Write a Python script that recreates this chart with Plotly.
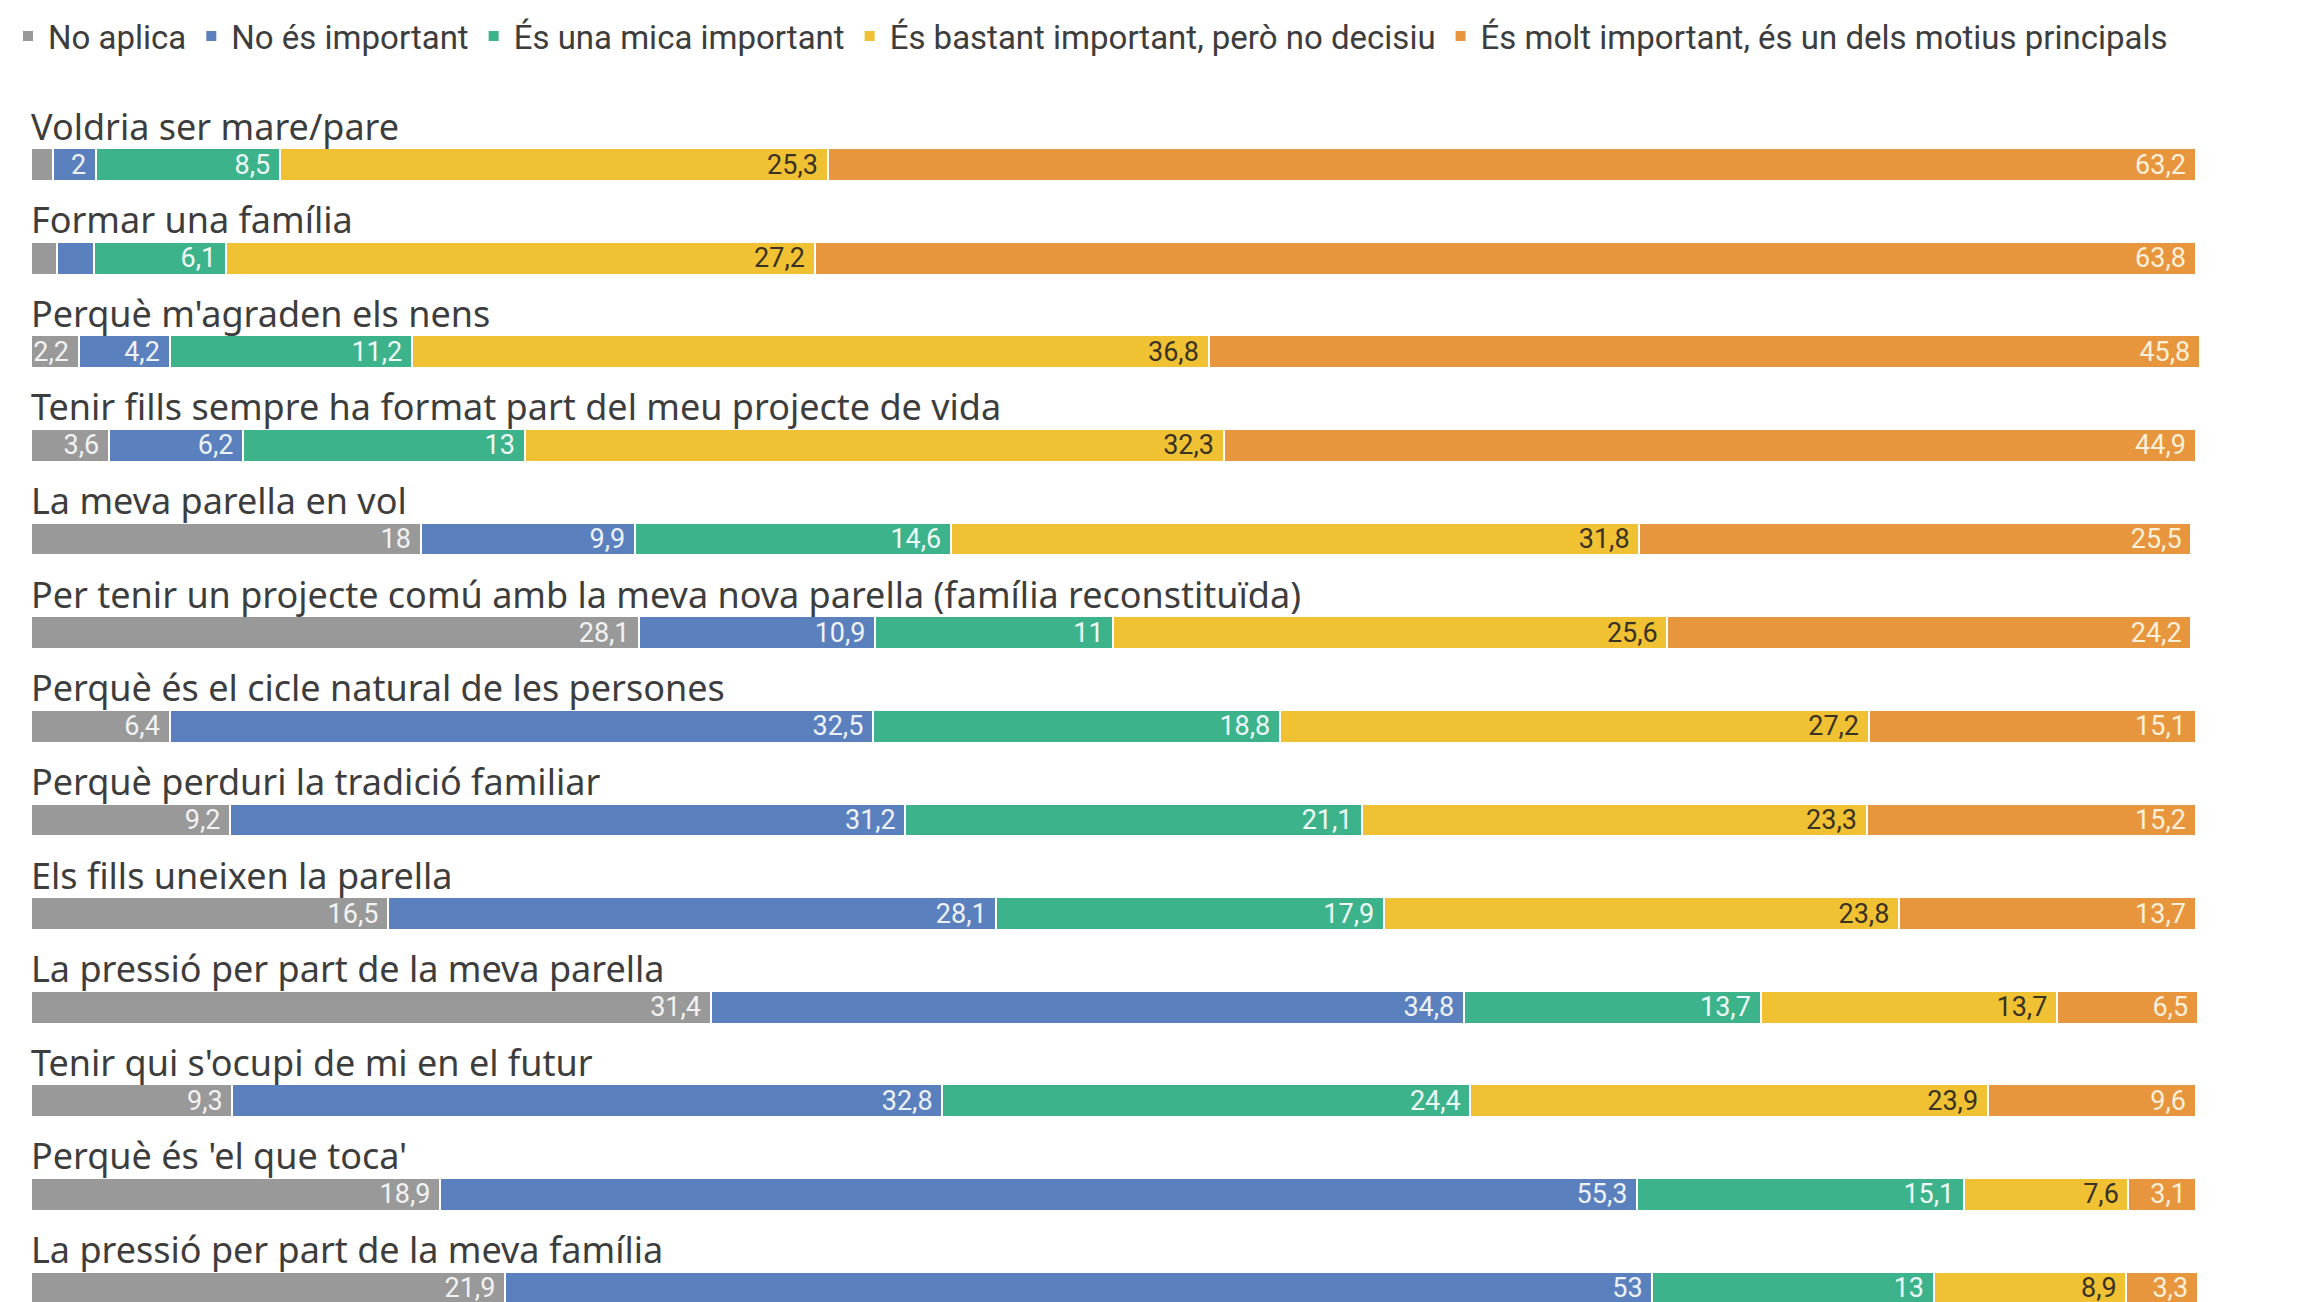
import plotly.graph_objects as go

motius = [
    "Voldria ser mare/pare",
    "Formar una família",
    "Perquè m'agraden els nens",
    "Tenir fills sempre ha format part del meu projecte de vida",
    "La meva parella en vol",
    "Per tenir un projecte comú amb la meva nova parella (família reconstituïda)",
    "Perquè és el cicle natural de les persones",
    "Perquè perduri la tradició familiar",
    "Els fills uneixen la parella",
    "La pressió per part de la meva parella",
    "Tenir qui s'ocupi de mi en el futur",
    "Perquè és 'el que toca'",
    "La pressió per part de la meva família",
]

no_aplica = [1.0, 1.2, 2.2, 3.6, 18, 28.1, 6.4, 9.2, 16.5, 31.4, 9.3, 18.9, 21.9]
no_important = [2, 1.7, 4.2, 6.2, 9.9, 10.9, 32.5, 31.2, 28.1, 34.8, 32.8, 55.3, 53]
mica_important = [8.5, 6.1, 11.2, 13, 14.6, 11, 18.8, 21.1, 17.9, 13.7, 24.4, 15.1, 13]
bastant_important = [25.3, 27.2, 36.8, 32.3, 31.8, 25.6, 27.2, 23.3, 23.8, 13.7, 23.9, 7.6, 8.9]
molt_important = [63.2, 63.8, 45.8, 44.9, 25.5, 24.2, 15.1, 15.2, 13.7, 6.5, 9.6, 3.1, 3.3]

series = [
    ("No aplica", no_aplica, "#999999", "#f2f2f2"),
    ("No és important", no_important, "#5b80be", "#eef2fa"),
    ("És una mica important", mica_important, "#3db38b", "#eefaf5"),
    ("És bastant important, però no decisiu", bastant_important, "#f0c233", "#3a3222"),
    ("És molt important, és un dels motius principals", molt_important, "#e8963d", "#fdf0da"),
]


def fmt(v):
    # values too small to hold a label are left blank, like the original
    s = ("%g" % v).replace(".", ",")
    return s + "\u00a0" if v >= 2 else ""


fig = go.Figure()
for name, vals, color, tcolor in series:
    fig.add_trace(go.Bar(
        y=motius,
        x=vals,
        name=name,
        orientation="h",
        marker=dict(color=color, line=dict(color="white", width=2)),
        text=[fmt(v) for v in vals],
        textposition="inside",
        insidetextanchor="end",
        textangle=0,
        textfont=dict(family="Roboto", size=27, color=tcolor),
        constraintext="none",
        cliponaxis=False,
        hoverinfo="skip",
    ))

for m in motius:
    fig.add_annotation(
        x=0, y=m, xref="x", yref="y",
        text=m, showarrow=False,
        xanchor="left", yanchor="bottom",
        yshift=12, xshift=-2,
        font=dict(family="Noto Sans", size=36, color="#3d3d3d"),
    )

# the page body adds an 8px offset, so margins are trimmed by that much
fig.update_layout(
    width=2305,
    height=1302,
    barmode="stack",
    bargap=0.65,
    plot_bgcolor="white",
    paper_bgcolor="white",
    margin=dict(l=23, r=112, t=52, b=8, autoexpand=False),
    xaxis=dict(range=[0, 100.25], visible=False, fixedrange=True),
    yaxis=dict(range=[12.15, -1.118], visible=False, fixedrange=True),
    legend=dict(
        orientation="h",
        xref="container", yref="container",
        x=0.0, xanchor="left",
        y=1.0, yanchor="top",
        font=dict(family="Roboto", size=33, color="#3d3d3d"),
        traceorder="normal",
        itemclick=False,
    ),
    showlegend=True,
)

fig.write_html("out.html")
